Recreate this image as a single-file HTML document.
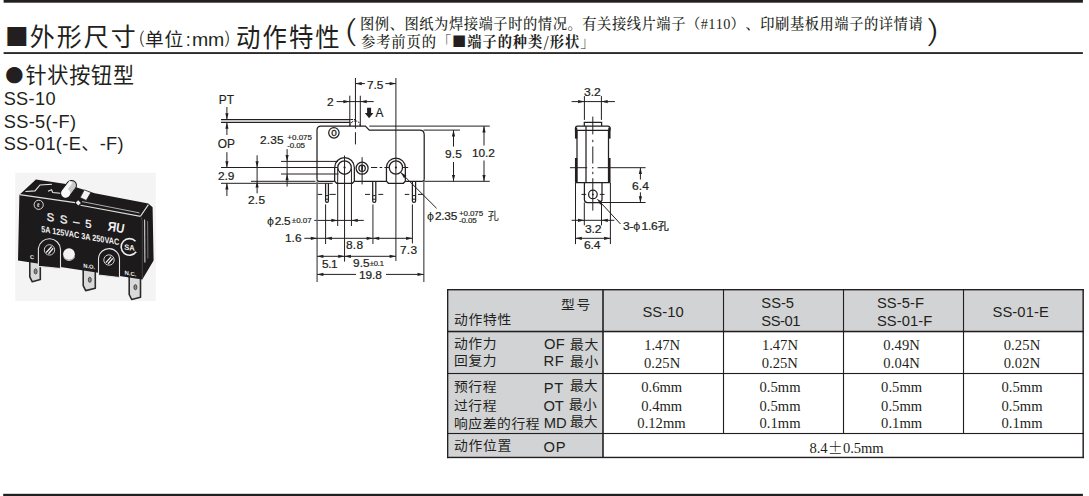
<!DOCTYPE html>
<html lang="zh-CN"><head><meta charset="utf-8"><title>SS</title>
<style>
html,body{margin:0;padding:0;background:#fff;}
body{width:1089px;height:496px;position:relative;overflow:hidden;color:#231f20;}
.t{position:absolute;white-space:nowrap;line-height:1;margin:0;padding:0;text-spacing-trim:space-all;font-kerning:none;}
.ph{font-size:105%;margin-right:.1em;-webkit-text-stroke:0;}
.dl{-webkit-text-stroke:.22px #231f20;}
.kz{font-family:"Noto Sans CJK SC",sans-serif;font-size:92%;}
.pm{font-family:"Noto Serif CJK SC",serif;font-weight:700;display:inline-block;width:1.05em;text-align:center;letter-spacing:0;}
b{font-weight:700;}
.hw{font-family:"Liberation Serif",serif;letter-spacing:.3px;}
.lp{font-family:"Noto Sans CJK SC",sans-serif;font-weight:300;}

.bar{position:absolute;background:#231f20;}
.tb{position:absolute;box-sizing:border-box;border:1.3px solid #231f20;background:#fff;}
.gr{position:absolute;background:#d3d4d6;}
.hl,.vl{position:absolute;background:#231f20;}
svg{position:absolute;left:0;top:0;}
svg .a{fill:none;stroke:#231f20;stroke-width:1.0;}
svg .b{fill:none;stroke:#231f20;stroke-width:1.25;}
svg .b2{fill:none;stroke:#231f20;stroke-width:1.6;}
svg .d{fill:none;stroke:#231f20;stroke-width:1;stroke-dasharray:2.6 .9;}
svg .b3{fill:none;stroke:#231f20;stroke-width:2.3;}
svg .g{fill:none;stroke:#6d6e71;stroke-width:1.5;}
svg .f{fill:#231f20;stroke:none;}
</style></head><body>
<svg width="1089" height="496" viewBox="0 0 1089 496">

<rect x="447.6" y="289.6" width="635.4" height="41.9" fill="#d2d3d5"/>
<rect x="447.6" y="331" width="155.4" height="126.3" fill="#d2d3d5"/>
<g fill="#231f20">
<rect x="3.6" y="0" width="1079.3" height="2.7"/>
<rect x="3.6" y="52.15" width="1079.3" height="1.8"/>
<rect x="3.2" y="493.8" width="1079.7" height="2.2"/>
<rect x="447" y="289" width="636.9" height="1.4"/>
<rect x="447" y="456.75" width="636.9" height="1.4"/>
<rect x="447" y="289" width="1.35" height="169.15"/>
<rect x="1082.45" y="289" width="1.45" height="169.15"/>
<rect x="447" y="330.75" width="636.9" height="1.55"/>
<rect x="447" y="372.95" width="636.9" height="1.12"/>
<rect x="447" y="432.95" width="636.9" height="1.12"/>
<rect x="602" y="289" width="2" height="168.5" fill-opacity=".8"/>
<rect x="722.95" y="289" width="1.12" height="144.9"/>
<rect x="842.95" y="289" width="1.12" height="144.9"/>
<rect x="962.95" y="289" width="1.12" height="144.9"/>
</g>

<rect x="15.2" y="172.8" width="140.6" height="128.3" fill="#f4f4f4"/>
<path d="M29.8 258.0L29.8 276.8L32.3 281.8L40.3 279.5L40.3 259.2Z" fill="#d9d9d9" stroke="#2a2a2a" stroke-width="1.6" stroke-linejoin="round"/>
<ellipse cx="35.6" cy="271.4" rx="1.5" ry="2.6" fill="#8a8a8a" stroke="#333" stroke-width=".8"/>
<path d="M83.2 266.0L83.2 285.6L85.7 290.6L95.3 288.3L95.3 267.2Z" fill="#d9d9d9" stroke="#2a2a2a" stroke-width="1.6" stroke-linejoin="round"/>
<ellipse cx="89.8" cy="279.8" rx="1.5" ry="2.6" fill="#8a8a8a" stroke="#333" stroke-width=".8"/>
<path d="M129.2 272.0L129.2 294.5L131.7 299.5L140.5 297.2L140.5 273.2Z" fill="#d9d9d9" stroke="#2a2a2a" stroke-width="1.6" stroke-linejoin="round"/>
<ellipse cx="135.4" cy="287.2" rx="1.5" ry="2.6" fill="#8a8a8a" stroke="#333" stroke-width=".8"/>
<path d="M19.4 194.7L35.9 179.6L66 184.1L94.7 193.2L148.3 203.6L152.6 207.2L153.6 260.4L142.3 279.6L18 260.6Z" fill="#1c1a1b"/>
<path d="M144.6 219.5L144.9 262.5" stroke="#cfcfcf" stroke-width="1.1" fill="none"/>
<path d="M147.6 221.0L147.9 258.5" stroke="#8d8d8d" stroke-width=".8" fill="none"/>
<path d="M19.6 194.6L75 202.6M80.5 205.2L140.4 216.3L148.4 204.6" stroke="#e0e0e0" stroke-width="1.1" fill="none"/>
<path d="M82 201.6L139.5 212.9" stroke="#bdbdbd" stroke-width=".9" fill="none"/>
<path d="M140.6 216.4L142.3 220.5V278.5" stroke="#4a4a4a" stroke-width=".9" fill="none"/>
<path d="M25.5 191.5L35 190.9L40 185L52 184.3M48 191.2L51.5 189.8L52.8 192.6L60.5 193.3" stroke="#ececec" stroke-width="1.1" fill="none"/>
<g transform="rotate(-53 65.6 193.2)"><rect x="60.9" y="188.3" width="19.5" height="9.8" rx="4.9" fill="#c9c9c9" stroke="#1c1a1b" stroke-width="1"/><rect x="65" y="188.9" width="13" height="3.6" fill="#f6f6f6"/><circle cx="65.7" cy="193.2" r="4.5" fill="#fafafa"/></g>
<path d="M84.3 189.8L90.9 192.6L86.2 200.4L80.2 197.6Z" fill="#f4f4f4" stroke="#1c1a1b" stroke-width=".7"/>
<path d="M78.2 200.2L80.8 202.9L78.4 205.6L75.6 202.7Z" fill="#f0f0f0"/>
<circle cx="38.7" cy="204.8" r="4.6" fill="none" stroke="#d8d8d8" stroke-width="1"/>
<path d="M38.4 266.4V248.4A11.1 11.1 0 0 1 60.5 249.4V268.6Z" fill="#1c1a1b" stroke="#e4e4e4" stroke-width="1.1" stroke-linejoin="round"/>
<circle cx="49.5" cy="249.9" r="5.2" fill="none" stroke="#cfcfcf" stroke-width="1"/>
<path d="M46.2 252.5L51.7 246.5M48.5 253.7L53.2 248.3" stroke="#efefef" stroke-width="1.3"/>
<path d="M98.5 275.0V258.5A10.5 10.5 0 0 1 119.5 259.7V277.6Z" fill="#1c1a1b" stroke="#e4e4e4" stroke-width="1.1" stroke-linejoin="round"/>
<circle cx="109.0" cy="260.0" r="5.2" fill="none" stroke="#cfcfcf" stroke-width="1"/>
<path d="M105.8 262.6L111.2 256.6M108.0 263.8L112.8 258.4" stroke="#efefef" stroke-width="1.3"/>
<circle cx="69" cy="254.2" r="5.9" fill="#f3f3f3"/>
<path d="M64 257.5A5.9 5.9 0 0 0 74.5 256.6" stroke="#b5b5b5" stroke-width="1.2" fill="none"/>
<path d="M135.5 241.2A8.3 8.3 0 1 0 136.2 251.8" stroke="#ededed" stroke-width="1.6" fill="none"/>
<g fill="#f2f2f2" font-family="'Liberation Sans',sans-serif">
<text transform="matrix(1 .17 0 1 46.8 220.6)" font-size="11.2" font-weight="400" textLength="44.8" lengthAdjust="spacing" stroke="#f2f2f2" stroke-width=".35">S S – 5</text>
<text transform="matrix(1 .17 0 1 41.2 231.9)" font-size="8.8" font-weight="700" textLength="78" lengthAdjust="spacingAndGlyphs">5A 125VAC 3A 250VAC</text>
<text transform="matrix(1 .17 0 1 107.8 230.6)" font-size="13.5" font-weight="700" font-style="italic" textLength="16.5" lengthAdjust="spacingAndGlyphs">ЯU</text>
<text transform="matrix(1 .1 0 1 124.2 249.7)" font-size="7.8" font-weight="700" textLength="10.6" lengthAdjust="spacingAndGlyphs">SA</text>
<text transform="matrix(1 .15 0 1 29.9 258.8)" font-size="5.6" font-weight="700">C</text>
<text transform="matrix(1 .15 0 1 83.2 267.4)" font-size="5.6" font-weight="700" textLength="12" lengthAdjust="spacingAndGlyphs">N.O.</text>
<text transform="matrix(1 .15 0 1 124.5 274.6)" font-size="5.6" font-weight="700" textLength="12" lengthAdjust="spacingAndGlyphs">N.C.</text>
<text transform="matrix(1 .15 0 1 36.9 206.8)" font-size="5.2" font-weight="700">ℓ</text>
</g>
<path class="b" d="M317 179.3V130.1Q317 126.1 321 126.1H365.4L369.3 130.1H419.6Q424.2 130.1 424.2 134.7V179.3"/>
<path class="b" d="M317 179.3Q317 181.3 319 181.3H334.7"/>
<path class="b" d="M354.4 181.3H386.5"/>
<path class="b" d="M405.3 181.3H422.2Q424.2 181.3 424.2 179.3"/>
<path class="b" d="M334.65 181.30V167.50A9.85 9.85 0 0 1 354.35 167.50V181.30L352.35 183.30H336.65Z"/>
<path class="b" d="M386.45 181.30V167.50A9.45 9.45 0 0 1 405.35 167.50V181.30L403.35 183.30H388.45Z"/>
<circle class="b" cx="344.55" cy="167.50" r="6.75"/>
<circle class="f" cx="344.55" cy="167.50" r="1.10"/>
<circle class="b" cx="395.90" cy="167.50" r="6.65"/>
<circle class="f" cx="395.90" cy="167.50" r="1.10"/>
<circle class="b" cx="362.10" cy="168.20" r="6.00"/>
<circle class="b" cx="362.10" cy="168.20" r="3.20"/>
<path class="a" d="M362.10 157.20L362.10 184.40"/>
<path class="b2" d="M362.10 165.60L362.10 170.60"/>
<path class="a" d="M371.00 167.50L377.30 167.50"/>
<path class="a" d="M379.60 167.50L382.20 167.50"/>
<path class="a" d="M384.40 167.50L389.30 167.50"/>
<path class="a" d="M402.50 167.50L408.20 167.50"/>
<circle class="b" cx="333.90" cy="132.80" r="5.20"/>
<path class="b" d="M221.00 119.50L350.50 119.50"/>
<path class="b" d="M221.00 122.40L350.50 122.40"/>
<path class="d" d="M349.9 126.1Q350.6 121.0 355.4 121.0Q359.8 121.0 360.3 126.1"/>
<path class="d" d="M350.50 119.50L355.40 119.50"/>
<path class="a" d="M349.80 95.70L349.80 126.10"/>
<path class="a" d="M360.30 95.70L360.30 126.10"/>
<path class="a" d="M355.45 78.00L355.45 128.60"/>
<path class="a" d="M355.45 132.20L355.45 144.40"/>
<path class="a" d="M395.90 78.00L395.90 261.00"/>
<path class="a" d="M344.55 155.50L344.55 261.60"/>
<path class="a" d="M369.30 126.10L489.80 126.10"/>
<path class="a" d="M423.50 130.10L459.90 130.10"/>
<path class="a" d="M424.20 181.30L489.80 181.30"/>
<path class="a" d="M453.50 130.10L453.50 146.60"/>
<path class="a" d="M453.50 162.00L453.50 181.30"/>
<path class="f" d="M453.50 130.10L455.10 136.40L451.90 136.40Z"/>
<path class="f" d="M453.50 181.30L451.90 175.00L455.10 175.00Z"/>
<path class="a" d="M484.00 126.10L484.00 145.50"/>
<path class="a" d="M484.00 160.50L484.00 181.30"/>
<path class="f" d="M484.00 126.10L485.60 132.40L482.40 132.40Z"/>
<path class="f" d="M484.00 181.30L482.40 175.00L485.60 175.00Z"/>
<path class="a" d="M355.45 83.60L364.90 83.60"/>
<path class="a" d="M385.40 83.60L395.90 83.60"/>
<path class="f" d="M355.45 83.60L361.75 82.00L361.75 85.20Z"/>
<path class="f" d="M395.90 83.60L389.60 85.20L389.60 82.00Z"/>
<path class="a" d="M336.60 101.60L373.70 101.60"/>
<path class="f" d="M349.70 101.60L343.40 103.20L343.40 100.00Z"/>
<path class="f" d="M360.40 101.60L366.70 100.00L366.70 103.20Z"/>
<path class="f" d="M367.1 107.7H371.1V112.9H373.4L369.1 118.3L364.8 112.9H367.1Z"/>
<path class="a" d="M226.90 107.00L226.90 119.60"/>
<path class="f" d="M226.90 119.60L225.30 113.30L228.50 113.30Z"/>
<path class="a" d="M226.90 122.50L226.90 135.00"/>
<path class="f" d="M226.90 122.50L228.50 128.80L225.30 128.80Z"/>
<path class="a" d="M226.90 152.20L226.90 167.50"/>
<path class="f" d="M226.90 167.50L225.30 161.20L228.50 161.20Z"/>
<path class="a" d="M226.90 183.30L226.90 196.00"/>
<path class="f" d="M226.90 183.30L228.50 189.60L225.30 189.60Z"/>
<path class="a" d="M221.00 167.50L337.80 167.50"/>
<path class="a" d="M221.00 183.30L332.70 183.30"/>
<path class="a" d="M257.10 155.30L257.10 193.30"/>
<path class="f" d="M257.10 167.50L255.50 161.20L258.70 161.20Z"/>
<path class="f" d="M257.10 181.30L258.70 187.60L255.50 187.60Z"/>
<path class="a" d="M251.00 181.30L315.40 181.30"/>
<path class="a" d="M287.10 149.10L287.10 186.60"/>
<path class="f" d="M287.10 161.40L285.50 155.10L288.70 155.10Z"/>
<path class="f" d="M287.10 174.00L288.70 180.30L285.50 180.30Z"/>
<path class="a" d="M281.00 161.40L338.00 161.40"/>
<path class="a" d="M281.00 174.00L338.60 174.00"/>
<path class="a" d="M314.30 220.40L363.80 220.40"/>
<path class="f" d="M337.70 220.40L331.40 222.00L331.40 218.80Z"/>
<path class="f" d="M351.45 220.40L357.75 218.80L357.75 222.00Z"/>
<path class="a" d="M337.70 168.50L337.70 226.00"/>
<path class="a" d="M351.45 168.50L351.45 226.00"/>
<path class="b" d="M325.60 183.30V200.90A1.40 1.40 0 0 0 328.40 200.90V183.30"/>
<path class="a" d="M325.60 195.60L328.40 195.60"/>
<path class="a" d="M325.60 199.20L328.40 199.20"/>
<path class="b" d="M372.70 181.80V200.75A1.55 1.55 0 0 0 375.80 200.75V181.80"/>
<path class="a" d="M372.70 195.60L375.80 195.60"/>
<path class="a" d="M372.70 199.20L375.80 199.20"/>
<path class="b" d="M412.40 181.80V200.70A1.60 1.60 0 0 0 415.60 200.70V181.80"/>
<path class="a" d="M412.40 195.60L415.60 195.60"/>
<path class="a" d="M412.40 199.20L415.60 199.20"/>
<path class="a" d="M325.60 204.40L325.60 244.00"/>
<path class="g" d="M372.90 204.40L372.90 244.00"/>
<path class="a" d="M412.40 204.40L412.40 243.40"/>
<path class="g" d="M317.10 181.50L317.10 282.00"/>
<path class="g" d="M423.80 181.50L423.80 282.00"/>
<path class="a" d="M317.60 194.40L322.20 194.40"/>
<path class="a" d="M329.50 194.40L335.80 194.40"/>
<path class="a" d="M365.00 194.40L370.00 194.40"/>
<path class="a" d="M378.30 194.40L383.20 194.40"/>
<path class="a" d="M404.80 194.40L409.30 194.40"/>
<path class="a" d="M418.00 194.40L423.20 194.40"/>
<path class="a" d="M304.30 238.30L412.40 238.30"/>
<path class="f" d="M317.10 238.30L310.80 239.90L310.80 236.70Z"/>
<path class="f" d="M325.60 238.30L331.90 236.70L331.90 239.90Z"/>
<path class="f" d="M372.90 238.30L366.60 239.90L366.60 236.70Z"/>
<path class="f" d="M372.90 238.30L379.20 236.70L379.20 239.90Z"/>
<path class="f" d="M412.40 238.30L406.10 239.90L406.10 236.70Z"/>
<path class="a" d="M317.10 256.30L395.90 256.30"/>
<path class="f" d="M317.10 256.30L323.40 254.70L323.40 257.90Z"/>
<path class="f" d="M344.55 256.30L338.25 257.90L338.25 254.70Z"/>
<path class="f" d="M344.55 256.30L350.85 254.70L350.85 257.90Z"/>
<path class="f" d="M395.90 256.30L389.60 257.90L389.60 254.70Z"/>
<path class="a" d="M317.10 274.40L356.00 274.40"/>
<path class="a" d="M386.00 274.40L423.80 274.40"/>
<path class="f" d="M317.10 274.40L323.40 272.80L323.40 276.00Z"/>
<path class="f" d="M423.80 274.40L417.50 276.00L417.50 272.80Z"/>
<path class="a" d="M401.00 172.80L436.60 208.30"/>
<path class="f" d="M400.80 172.60L406.46 175.85L404.05 178.26Z"/>
<path class="b" d="M575.5 130.4V128.1Q575.5 126.1 577.5 126.1H608Q610 126.1 610 128.1V130.4"/>
<path class="b3" d="M576.10 127.50L576.10 138.60"/>
<path class="b3" d="M609.40 127.50L609.40 138.60"/>
<path class="b3" d="M576.10 158.00L576.10 182.60"/>
<path class="b3" d="M609.40 158.00L609.40 182.60"/>
<path class="b" d="M577.00 130.40L577.00 182.60"/>
<path class="b" d="M608.50 130.40L608.50 182.60"/>
<path class="b" d="M575.50 130.40L610.00 130.40"/>
<path class="b" d="M575.50 182.60L610.00 182.60"/>
<path class="b" d="M586.00 126.10L586.00 182.60"/>
<path class="b" d="M584.3 126.1V122.4H601.6V126.1"/>
<path class="a" d="M592.80 116.60L592.80 134.40"/>
<path class="a" d="M592.80 139.80L592.80 142.20"/>
<path class="a" d="M592.80 146.50L592.80 163.50"/>
<circle class="f" cx="592.80" cy="167.70" r="0.80"/>
<path class="a" d="M592.80 171.80L592.80 174.20"/>
<path class="a" d="M592.80 178.20L592.80 210.60"/>
<path class="a" d="M570.00 167.70L587.20 167.70"/>
<path class="a" d="M597.50 167.70L645.60 167.70"/>
<path class="a" d="M571.60 101.60L614.90 101.60"/>
<path class="f" d="M584.40 101.60L578.10 103.20L578.10 100.00Z"/>
<path class="f" d="M601.40 101.60L607.70 100.00L607.70 103.20Z"/>
<path class="a" d="M584.40 96.10L584.40 119.90"/>
<path class="a" d="M601.40 96.10L601.40 119.90"/>
<path class="b" d="M584.4 182.6V199.5Q584.4 202.5 587.4 202.5H599.8L602 200.3V182.6"/>
<circle class="b" cx="592.90" cy="194.40" r="4.30"/>
<circle class="f" cx="592.90" cy="194.40" r="0.90"/>
<path class="a" d="M581.50 194.40L586.20 194.40"/>
<path class="a" d="M599.80 194.40L604.50 194.40"/>
<path class="a" d="M602.00 202.50L645.60 202.50"/>
<path class="a" d="M640.40 167.70L640.40 179.50"/>
<path class="a" d="M640.40 192.30L640.40 202.50"/>
<path class="f" d="M640.40 167.70L642.00 174.00L638.80 174.00Z"/>
<path class="f" d="M640.40 202.50L638.80 196.20L642.00 196.20Z"/>
<path class="a" d="M597.60 199.30L620.50 224.00"/>
<path class="f" d="M597.20 198.90L602.74 202.35L600.25 204.67Z"/>
<path class="a" d="M575.50 182.60L575.50 244.10"/>
<path class="a" d="M610.40 182.60L610.40 244.10"/>
<path class="a" d="M584.30 202.50L584.30 225.30"/>
<path class="a" d="M601.50 202.50L601.50 225.30"/>
<path class="a" d="M571.60 220.30L614.30 220.30"/>
<path class="f" d="M584.30 220.30L578.00 221.90L578.00 218.70Z"/>
<path class="f" d="M601.50 220.30L607.80 218.70L607.80 221.90Z"/>
<path class="a" d="M575.50 238.30L610.40 238.30"/>
<path class="f" d="M575.50 238.30L581.80 236.70L581.80 239.90Z"/>
<path class="f" d="M610.40 238.30L604.10 239.90L604.10 236.70Z"/>
<text transform="translate(333.9 135.85) scale(1.18 1)" x="0" y="0" text-anchor="middle" font-family="'Liberation Sans',sans-serif" font-size="8.4" fill="#231f20" stroke="#231f20" stroke-width=".3">0</text>
</svg>
<span class="t" style="left:4.90px;top:24.00px;font-family:'Noto Sans CJK SC','Liberation Sans',sans-serif;font-size:23.63px;">■</span>
<span class="t" style="left:29.80px;top:23.00px;font-family:'Noto Sans CJK SC','Liberation Sans',sans-serif;font-size:24.97px;letter-spacing:2.000px;">外形尺寸</span>
<span class="t" style="left:138.88px;top:29.00px;font-family:'Noto Sans CJK SC','Liberation Sans',sans-serif;font-size:16.50px;font-weight:300;transform:scaleX(1.25);transform-origin:50% 50%;">(</span>
<span class="t" style="left:145.10px;top:29.00px;font-family:'Noto Sans CJK SC','Liberation Sans',sans-serif;font-size:18.73px;letter-spacing:0.810px;">单位</span>
<span class="t" style="left:185.85px;top:32.00px;font-family:'Liberation Sans','Noto Sans CJK SC',sans-serif;font-size:17.83px;">:</span>
<span class="t" style="left:192.35px;top:31.00px;font-family:'Liberation Sans','Noto Sans CJK SC',sans-serif;font-size:18.39px;letter-spacing:-0.160px;transform:scaleX(1.06);transform-origin:0 50%;">mm</span>
<span class="t" style="left:224.88px;top:29.00px;font-family:'Noto Sans CJK SC','Liberation Sans',sans-serif;font-size:16.50px;font-weight:300;transform:scaleX(1.25);transform-origin:50% 50%;">)</span>
<span class="t" style="left:235.55px;top:23.00px;font-family:'Noto Sans CJK SC','Liberation Sans',sans-serif;font-size:26.52px;letter-spacing:2.228px;transform:scaleX(0.92);transform-origin:0 50%;">动作特性</span>
<span class="t" style="left:346.33px;top:15.00px;font-family:'Noto Sans CJK SC','Liberation Sans',sans-serif;font-size:28.13px;font-weight:300;transform:scaleX(1.55);transform-origin:50% 50%;">(</span>
<span class="t" style="left:928.92px;top:15.00px;font-family:'Noto Sans CJK SC','Liberation Sans',sans-serif;font-size:28.13px;font-weight:300;transform:scaleX(1.55);transform-origin:50% 50%;">)</span>
<span class="t" style="left:360.00px;top:16.00px;font-family:'Noto Serif CJK SC','Liberation Serif',serif;font-size:14.30px;font-weight:500;letter-spacing:0.521px;">图例、图纸为焊接端子时的情况。有关接线片端子（<span class="hw">#110</span>）、印刷基板用端子的详情请</span>
<span class="t" style="left:361.00px;top:34.00px;font-family:'Noto Serif CJK SC','Liberation Serif',serif;font-size:14.30px;font-weight:500;letter-spacing:0.883px;">参考前页的「<b>■端子的种类/形状</b>」</span>
<span class="t" style="left:5.18px;top:65.00px;font-family:'Noto Sans CJK SC','Liberation Sans',sans-serif;font-size:18.17px;">●</span>
<span class="t" style="left:25.45px;top:64.00px;font-family:'Noto Sans CJK SC','Liberation Sans',sans-serif;font-size:21.12px;letter-spacing:0.775px;">针状按钮型</span>
<span class="t" style="left:3.65px;top:90.00px;font-family:'Liberation Sans','Noto Sans CJK SC',sans-serif;font-size:18.20px;letter-spacing:0.327px;">SS-10</span>
<span class="t" style="left:3.65px;top:113.00px;font-family:'Liberation Sans','Noto Sans CJK SC',sans-serif;font-size:18.20px;letter-spacing:0.387px;">SS-5(-F)</span>
<span class="t" style="left:3.65px;top:135.00px;font-family:'Liberation Sans','Noto Sans CJK SC',sans-serif;font-size:18.20px;letter-spacing:0.337px;">SS-01(-E、-F)</span>
<span class="t" style="left:218.80px;top:95.00px;font-family:'Liberation Sans','Noto Sans CJK SC',sans-serif;font-size:11.90px;-webkit-text-stroke:.18px #231f20;">PT</span>
<span class="t" style="left:217.80px;top:139.00px;font-family:'Liberation Sans','Noto Sans CJK SC',sans-serif;font-size:11.90px;letter-spacing:0.050px;-webkit-text-stroke:.18px #231f20;">OP</span>
<span class="t" style="left:218.20px;top:171.00px;font-family:'Liberation Sans','Noto Sans CJK SC',sans-serif;font-size:11.00px;letter-spacing:-0.062px;transform:scaleX(1.08);transform-origin:0 50%;-webkit-text-stroke:.22px #231f20;">2.9</span>
<span class="t" style="left:248.30px;top:195.00px;font-family:'Liberation Sans','Noto Sans CJK SC',sans-serif;font-size:11.00px;letter-spacing:0.245px;transform:scaleX(1.08);transform-origin:0 50%;-webkit-text-stroke:.22px #231f20;">2.5</span>
<span class="t" style="left:260.00px;top:135.00px;font-family:'Liberation Sans','Noto Sans CJK SC',sans-serif;font-size:11.00px;letter-spacing:0.135px;transform:scaleX(1.08);transform-origin:0 50%;-webkit-text-stroke:.22px #231f20;">2.35</span>
<span class="t" style="left:287.35px;top:134.00px;font-family:'Liberation Sans','Noto Sans CJK SC',sans-serif;font-size:8.00px;letter-spacing:-0.010px;-webkit-text-stroke:.18px #231f20;">+0.075</span>
<span class="t" style="left:287.35px;top:142.00px;font-family:'Liberation Sans','Noto Sans CJK SC',sans-serif;font-size:8.00px;letter-spacing:-0.151px;-webkit-text-stroke:.18px #231f20;">-0.05</span>
<span class="t" style="left:266.60px;top:216.00px;font-family:'Liberation Sans','Noto Sans CJK SC',sans-serif;font-size:11.00px;letter-spacing:-0.368px;transform:scaleX(1.08);transform-origin:0 50%;-webkit-text-stroke:.22px #231f20;"><span class="ph">ϕ</span>2.5</span>
<span class="t" style="left:291.75px;top:217.00px;font-family:'Liberation Sans','Noto Sans CJK SC',sans-serif;font-size:8.00px;-webkit-text-stroke:.18px #231f20;">±0.07</span>
<span class="t" style="left:284.65px;top:233.00px;font-family:'Liberation Sans','Noto Sans CJK SC',sans-serif;font-size:11.00px;transform:scaleX(1.08);transform-origin:0 50%;-webkit-text-stroke:.22px #231f20;">1.6</span>
<span class="t" style="left:326.88px;top:97.00px;font-family:'Liberation Sans','Noto Sans CJK SC',sans-serif;font-size:11.00px;transform:scaleX(1.08);transform-origin:0 50%;-webkit-text-stroke:.22px #231f20;">2</span>
<span class="t" style="left:367.20px;top:80.00px;font-family:'Liberation Sans','Noto Sans CJK SC',sans-serif;font-size:11.00px;letter-spacing:-0.062px;transform:scaleX(1.08);transform-origin:0 50%;-webkit-text-stroke:.22px #231f20;">7.5</span>
<span class="t" style="left:375.60px;top:108.00px;font-family:'Liberation Sans','Noto Sans CJK SC',sans-serif;font-size:11.90px;-webkit-text-stroke:.18px #231f20;">A</span>
<span class="t" style="left:445.00px;top:149.00px;font-family:'Liberation Sans','Noto Sans CJK SC',sans-serif;font-size:11.00px;letter-spacing:0.125px;transform:scaleX(1.08);transform-origin:0 50%;-webkit-text-stroke:.22px #231f20;">9.5</span>
<span class="t" style="left:471.85px;top:148.00px;font-family:'Liberation Sans','Noto Sans CJK SC',sans-serif;font-size:11.00px;letter-spacing:-0.107px;transform:scaleX(1.08);transform-origin:0 50%;-webkit-text-stroke:.22px #231f20;">10.2</span>
<span class="t" style="left:345.50px;top:240.00px;font-family:'Liberation Sans','Noto Sans CJK SC',sans-serif;font-size:11.00px;letter-spacing:0.245px;transform:scaleX(1.08);transform-origin:0 50%;-webkit-text-stroke:.22px #231f20;">8.8</span>
<span class="t" style="left:400.40px;top:245.00px;font-family:'Liberation Sans','Noto Sans CJK SC',sans-serif;font-size:11.00px;letter-spacing:0.245px;transform:scaleX(1.08);transform-origin:0 50%;-webkit-text-stroke:.22px #231f20;">7.3</span>
<span class="t" style="left:322.30px;top:259.00px;font-family:'Liberation Sans','Noto Sans CJK SC',sans-serif;font-size:11.00px;letter-spacing:-0.427px;transform:scaleX(1.08);transform-origin:0 50%;-webkit-text-stroke:.22px #231f20;">5.1</span>
<span class="t" style="left:353.00px;top:258.00px;font-family:'Liberation Sans','Noto Sans CJK SC',sans-serif;font-size:11.00px;letter-spacing:0.025px;transform:scaleX(1.08);transform-origin:0 50%;-webkit-text-stroke:.22px #231f20;">9.5</span>
<span class="t" style="left:369.65px;top:260.00px;font-family:'Liberation Sans','Noto Sans CJK SC',sans-serif;font-size:7.60px;letter-spacing:-0.135px;-webkit-text-stroke:.18px #231f20;">±0.1</span>
<span class="t" style="left:359.15px;top:270.00px;font-family:'Liberation Sans','Noto Sans CJK SC',sans-serif;font-size:11.00px;letter-spacing:-0.107px;transform:scaleX(1.08);transform-origin:0 50%;-webkit-text-stroke:.22px #231f20;">19.8</span>
<span class="t" style="left:427.20px;top:211.00px;font-family:'Liberation Sans','Noto Sans CJK SC',sans-serif;font-size:11.00px;letter-spacing:-0.242px;transform:scaleX(1.08);transform-origin:0 50%;-webkit-text-stroke:.22px #231f20;"><span class="ph">ϕ</span>2.35</span>
<span class="t" style="left:459.05px;top:210.00px;font-family:'Liberation Sans','Noto Sans CJK SC',sans-serif;font-size:8.00px;letter-spacing:-0.121px;-webkit-text-stroke:.18px #231f20;">+0.075</span>
<span class="t" style="left:459.05px;top:217.00px;font-family:'Liberation Sans','Noto Sans CJK SC',sans-serif;font-size:8.00px;letter-spacing:-0.151px;-webkit-text-stroke:.18px #231f20;">-0.05</span>
<span class="t" style="left:487.82px;top:210.00px;font-family:'Noto Sans CJK SC','Liberation Sans',sans-serif;font-size:11.07px;">孔</span>
<span class="t" style="left:584.45px;top:87.00px;font-family:'Liberation Sans','Noto Sans CJK SC',sans-serif;font-size:11.20px;transform:scaleX(1.08);transform-origin:0 50%;-webkit-text-stroke:.22px #231f20;">3.2</span>
<span class="t" style="left:631.60px;top:181.00px;font-family:'Liberation Sans','Noto Sans CJK SC',sans-serif;font-size:11.20px;letter-spacing:0.090px;transform:scaleX(1.08);transform-origin:0 50%;-webkit-text-stroke:.22px #231f20;">6.4</span>
<span class="t" style="left:623.25px;top:220.00px;font-family:'Liberation Sans','Noto Sans CJK SC',sans-serif;font-size:11.20px;letter-spacing:-0.202px;transform:scaleX(1.08);transform-origin:0 50%;-webkit-text-stroke:.22px #231f20;">3-<span class="ph">ϕ</span>1.6<span class="kz">孔</span></span>
<span class="t" style="left:584.55px;top:224.00px;font-family:'Liberation Sans','Noto Sans CJK SC',sans-serif;font-size:11.20px;letter-spacing:-0.180px;transform:scaleX(1.08);transform-origin:0 50%;-webkit-text-stroke:.22px #231f20;">3.2</span>
<span class="t" style="left:584.30px;top:240.00px;font-family:'Liberation Sans','Noto Sans CJK SC',sans-serif;font-size:11.20px;letter-spacing:-0.180px;transform:scaleX(1.08);transform-origin:0 50%;-webkit-text-stroke:.22px #231f20;">6.4</span>
<span class="t" style="left:560.85px;top:297.00px;font-family:'Noto Sans CJK SC','Liberation Sans',sans-serif;font-size:13.00px;letter-spacing:1.711px;transform:scaleX(1.06);transform-origin:0 50%;">型号</span>
<span class="t" style="left:454.15px;top:312.00px;font-family:'Noto Sans CJK SC','Liberation Sans',sans-serif;font-size:13.00px;letter-spacing:0.685px;transform:scaleX(1.06);transform-origin:0 50%;">动作特性</span>
<span class="t" style="left:453.85px;top:336.00px;font-family:'Noto Sans CJK SC','Liberation Sans',sans-serif;font-size:13.00px;letter-spacing:0.529px;transform:scaleX(1.06);transform-origin:0 50%;">动作力</span>
<span class="t" style="left:543.95px;top:337.00px;font-family:'Liberation Sans','Noto Sans CJK SC',sans-serif;font-size:14.75px;letter-spacing:0.250px;">OF</span>
<span class="t" style="left:569.85px;top:337.00px;font-family:'Noto Sans CJK SC','Liberation Sans',sans-serif;font-size:13.00px;letter-spacing:0.653px;transform:scaleX(1.06);transform-origin:0 50%;">最大</span>
<span class="t" style="left:453.65px;top:353.00px;font-family:'Noto Sans CJK SC','Liberation Sans',sans-serif;font-size:13.00px;letter-spacing:0.608px;transform:scaleX(1.06);transform-origin:0 50%;">回复力</span>
<span class="t" style="left:543.45px;top:354.00px;font-family:'Liberation Sans','Noto Sans CJK SC',sans-serif;font-size:14.75px;letter-spacing:0.722px;">RF</span>
<span class="t" style="left:569.65px;top:354.00px;font-family:'Noto Sans CJK SC','Liberation Sans',sans-serif;font-size:13.00px;letter-spacing:0.640px;transform:scaleX(1.06);transform-origin:0 50%;">最小</span>
<span class="t" style="left:454.40px;top:379.00px;font-family:'Noto Sans CJK SC','Liberation Sans',sans-serif;font-size:13.00px;letter-spacing:0.529px;transform:scaleX(1.06);transform-origin:0 50%;">预行程</span>
<span class="t" style="left:543.85px;top:381.00px;font-family:'Liberation Sans','Noto Sans CJK SC',sans-serif;font-size:14.75px;letter-spacing:0.563px;">PT</span>
<span class="t" style="left:570.05px;top:378.00px;font-family:'Noto Sans CJK SC','Liberation Sans',sans-serif;font-size:13.00px;letter-spacing:0.040px;transform:scaleX(1.06);transform-origin:0 50%;">最大</span>
<span class="t" style="left:454.40px;top:398.00px;font-family:'Noto Sans CJK SC','Liberation Sans',sans-serif;font-size:13.00px;letter-spacing:0.529px;transform:scaleX(1.06);transform-origin:0 50%;">过行程</span>
<span class="t" style="left:543.45px;top:399.00px;font-family:'Liberation Sans','Noto Sans CJK SC',sans-serif;font-size:14.75px;letter-spacing:-0.040px;">OT</span>
<span class="t" style="left:569.45px;top:397.00px;font-family:'Noto Sans CJK SC','Liberation Sans',sans-serif;font-size:13.00px;letter-spacing:0.160px;transform:scaleX(1.06);transform-origin:0 50%;">最小</span>
<span class="t" style="left:453.90px;top:416.00px;font-family:'Noto Sans CJK SC','Liberation Sans',sans-serif;font-size:13.00px;letter-spacing:0.550px;transform:scaleX(1.06);transform-origin:0 50%;">响应差的行程</span>
<span class="t" style="left:543.85px;top:416.00px;font-family:'Liberation Sans','Noto Sans CJK SC',sans-serif;font-size:14.75px;letter-spacing:-0.040px;">MD</span>
<span class="t" style="left:570.05px;top:414.00px;font-family:'Noto Sans CJK SC','Liberation Sans',sans-serif;font-size:13.00px;letter-spacing:0.040px;transform:scaleX(1.06);transform-origin:0 50%;">最大</span>
<span class="t" style="left:454.15px;top:438.00px;font-family:'Noto Sans CJK SC','Liberation Sans',sans-serif;font-size:13.00px;letter-spacing:0.698px;transform:scaleX(1.06);transform-origin:0 50%;">动作位置</span>
<span class="t" style="left:543.55px;top:440.00px;font-family:'Liberation Sans','Noto Sans CJK SC',sans-serif;font-size:14.75px;letter-spacing:0.750px;">OP</span>
<span class="t" style="left:642.45px;top:305.00px;font-family:'Liberation Sans','Noto Sans CJK SC',sans-serif;font-size:14.75px;letter-spacing:0.037px;">SS-10</span>
<span class="t" style="left:761.35px;top:296.00px;font-family:'Liberation Sans','Noto Sans CJK SC',sans-serif;font-size:14.75px;letter-spacing:-0.033px;">SS-5</span>
<span class="t" style="left:761.35px;top:314.00px;font-family:'Liberation Sans','Noto Sans CJK SC',sans-serif;font-size:14.75px;letter-spacing:-0.463px;">SS-01</span>
<span class="t" style="left:876.95px;top:296.00px;font-family:'Liberation Sans','Noto Sans CJK SC',sans-serif;font-size:14.75px;letter-spacing:0.081px;">SS-5-F</span>
<span class="t" style="left:876.95px;top:314.00px;font-family:'Liberation Sans','Noto Sans CJK SC',sans-serif;font-size:14.75px;letter-spacing:0.050px;">SS-01-F</span>
<span class="t" style="left:992.45px;top:305.00px;font-family:'Liberation Sans','Noto Sans CJK SC',sans-serif;font-size:14.75px;letter-spacing:0.107px;">SS-01-E</span>
<span class="t" style="left:644.15px;top:338.00px;font-family:'Liberation Serif','Noto Serif CJK SC',serif;font-size:14.60px;letter-spacing:-0.025px;">1.47N</span>
<span class="t" style="left:644.05px;top:356.00px;font-family:'Liberation Serif','Noto Serif CJK SC',serif;font-size:14.60px;letter-spacing:0.012px;">0.25N</span>
<span class="t" style="left:761.95px;top:338.00px;font-family:'Liberation Serif','Noto Serif CJK SC',serif;font-size:14.60px;letter-spacing:-0.025px;">1.47N</span>
<span class="t" style="left:761.75px;top:356.00px;font-family:'Liberation Serif','Noto Serif CJK SC',serif;font-size:14.60px;letter-spacing:0.012px;">0.25N</span>
<span class="t" style="left:883.35px;top:338.00px;font-family:'Liberation Serif','Noto Serif CJK SC',serif;font-size:14.60px;letter-spacing:0.101px;">0.49N</span>
<span class="t" style="left:883.35px;top:356.00px;font-family:'Liberation Serif','Noto Serif CJK SC',serif;font-size:14.60px;letter-spacing:0.101px;">0.04N</span>
<span class="t" style="left:1003.65px;top:338.00px;font-family:'Liberation Serif','Noto Serif CJK SC',serif;font-size:14.60px;letter-spacing:0.141px;">0.25N</span>
<span class="t" style="left:1003.65px;top:356.00px;font-family:'Liberation Serif','Noto Serif CJK SC',serif;font-size:14.60px;letter-spacing:0.141px;">0.02N</span>
<span class="t" style="left:641.30px;top:380.00px;font-family:'Liberation Serif','Noto Serif CJK SC',serif;font-size:14.60px;letter-spacing:-0.012px;">0.6mm</span>
<span class="t" style="left:641.30px;top:399.00px;font-family:'Liberation Serif','Noto Serif CJK SC',serif;font-size:14.60px;letter-spacing:-0.012px;">0.4mm</span>
<span class="t" style="left:637.35px;top:416.00px;font-family:'Liberation Serif','Noto Serif CJK SC',serif;font-size:14.60px;">0.12mm</span>
<span class="t" style="left:759.50px;top:380.00px;font-family:'Liberation Serif','Noto Serif CJK SC',serif;font-size:14.60px;letter-spacing:0.038px;">0.5mm</span>
<span class="t" style="left:759.50px;top:399.00px;font-family:'Liberation Serif','Noto Serif CJK SC',serif;font-size:14.60px;letter-spacing:0.038px;">0.5mm</span>
<span class="t" style="left:759.50px;top:416.00px;font-family:'Liberation Serif','Noto Serif CJK SC',serif;font-size:14.60px;letter-spacing:0.038px;">0.1mm</span>
<span class="t" style="left:881.10px;top:380.00px;font-family:'Liberation Serif','Noto Serif CJK SC',serif;font-size:14.60px;letter-spacing:0.038px;">0.5mm</span>
<span class="t" style="left:881.10px;top:399.00px;font-family:'Liberation Serif','Noto Serif CJK SC',serif;font-size:14.60px;letter-spacing:0.038px;">0.5mm</span>
<span class="t" style="left:881.10px;top:416.00px;font-family:'Liberation Serif','Noto Serif CJK SC',serif;font-size:14.60px;letter-spacing:0.038px;">0.1mm</span>
<span class="t" style="left:1001.50px;top:380.00px;font-family:'Liberation Serif','Noto Serif CJK SC',serif;font-size:14.60px;letter-spacing:0.038px;">0.5mm</span>
<span class="t" style="left:1001.50px;top:399.00px;font-family:'Liberation Serif','Noto Serif CJK SC',serif;font-size:14.60px;letter-spacing:0.038px;">0.5mm</span>
<span class="t" style="left:1001.50px;top:416.00px;font-family:'Liberation Serif','Noto Serif CJK SC',serif;font-size:14.60px;letter-spacing:0.038px;">0.1mm</span>
<span class="t" style="left:809.50px;top:440.00px;font-family:'Liberation Serif','Noto Serif CJK SC',serif;font-size:14.60px;letter-spacing:-0.051px;">8.4<span class="pm">±</span>0.5mm</span>
</body></html>
